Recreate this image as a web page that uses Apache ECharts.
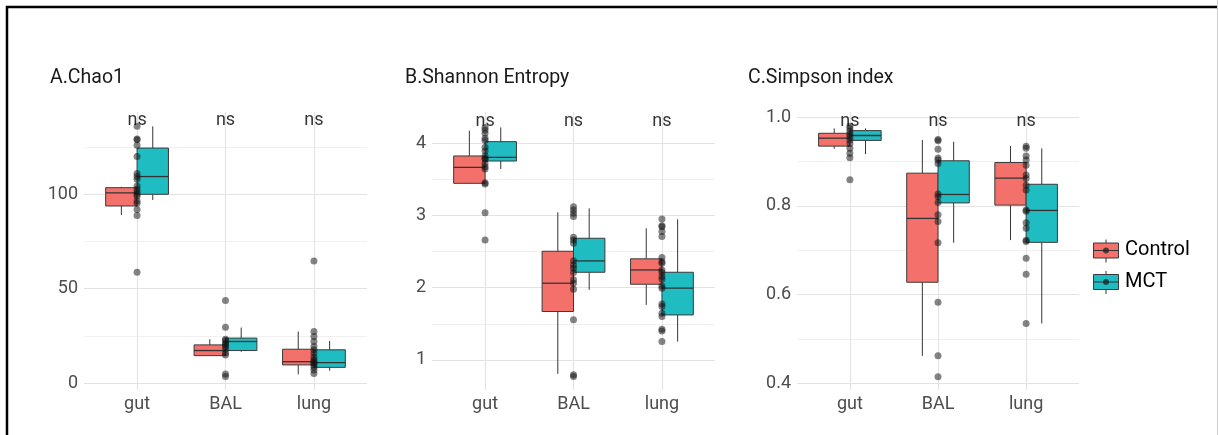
<!DOCTYPE html>
<html><head><meta charset="utf-8">
<script src="https://cdn.jsdelivr.net/npm/echarts@6/dist/echarts.min.js"></script>
<style>html,body{margin:0;padding:0;background:#fff}#c{width:1218px;height:435px}</style>
</head><body><div id="c"></div>
<script>
const categories = ['gut', 'BAL', 'lung'];
const groups = ['Control', 'MCT'];
const panelTitles = ['A.Chao1', 'B.Shannon Entropy', 'C.Simpson index'];
const sigLabels = ['ns', 'ns', 'ns'];

// box stats per category: [lower whisker, Q1, median, Q3, upper whisker]
const chao1Control = [[89, 93.8, 100.8, 103.5, 104], [14.5, 14.5, 17.2, 20.2, 23.2], [4.6, 9.6, 11.3, 17.9, 27.3]];
const chao1MCT     = [[97, 100, 109.4, 124.5, 136], [16.6, 17.2, 22, 23.8, 29.4], [6.5, 8.3, 10.8, 17.6, 22.3]];
const chao1Points = [
  [136, 129.3, 128.9, 126, 120, 111, 109.4, 108, 104.4, 102.7, 101.2, 100, 99, 96.4, 95.2, 92, 88.8, 58.7],
  [43.7, 29.6, 23.2, 22.5, 21.1, 20.5, 19.3, 18, 16, 14.9, 4.8, 3.4],
  [64.7, 27.3, 24.6, 22, 19.3, 17.6, 15.8, 13.7, 12.2, 11.3, 10.5, 9.6, 8.3, 6.9, 5.1]
];
const shannonControl = [[3.44, 3.446, 3.668, 3.825, 4.175], [0.807, 1.67, 2.062, 2.505, 3.045], [1.762, 2.048, 2.246, 2.40, 2.823]];
const shannonMCT     = [[3.645, 3.755, 3.806, 4.023, 4.22], [1.97, 2.214, 2.371, 2.685, 3.10], [1.254, 1.623, 1.993, 2.214, 2.948]];
const shannonPoints = [
  [4.22, 4.185, 4.14, 4.07, 4.04, 3.945, 3.894, 3.825, 3.79, 3.78, 3.72, 3.677, 3.645, 3.455, 3.437, 3.04, 2.66],
  [3.123, 3.077, 3.03, 2.985, 2.70, 2.66, 2.615, 2.375, 2.316, 2.27, 2.21, 2.11, 2.062, 1.98, 1.555, 0.793, 0.77],
  [2.952, 2.86, 2.845, 2.78, 2.71, 2.42, 2.36, 2.34, 2.246, 2.21, 2.154, 2.117, 2.025, 1.993, 1.776, 1.74, 1.646, 1.60, 1.425, 1.40, 1.254]
];
const simpsonControl = [[0.929, 0.935, 0.953, 0.964, 0.975], [0.462, 0.628, 0.772, 0.874, 0.949], [0.723, 0.802, 0.863, 0.898, 0.935]];
const simpsonMCT     = [[0.917, 0.948, 0.959, 0.970, 0.975], [0.717, 0.807, 0.826, 0.902, 0.945], [0.535, 0.718, 0.790, 0.849, 0.930]];
const simpsonPoints = [
  [0.980, 0.975, 0.968, 0.962, 0.956, 0.949, 0.941, 0.930, 0.919, 0.909, 0.859],
  [0.950, 0.947, 0.928, 0.908, 0.904, 0.896, 0.827, 0.821, 0.808, 0.780, 0.765, 0.717, 0.583, 0.462, 0.415],
  [0.935, 0.930, 0.913, 0.904, 0.892, 0.870, 0.862, 0.847, 0.836, 0.791, 0.788, 0.762, 0.750, 0.723, 0.720, 0.682, 0.646, 0.535]
];
const sigY = [139, 4.3, 0.99];

// axis ticks
const yMajorTicks = [[0, 50, 100], [1, 2, 3, 4], [0.4, 0.6, 0.8, 1.0]];
const yMinorTicks = [[25, 75, 125], [1.5, 2.5, 3.5], [0.5, 0.7, 0.9]];
const yRanges = [[-3.7, 143.6], [0.583, 4.434], [0.385, 1.012]];
const yDecimals = [0, 0, 1];

const panels = [
  {ctrl: chao1Control, mct: chao1MCT, pts: chao1Points},
  {ctrl: shannonControl, mct: shannonMCT, pts: shannonPoints},
  {ctrl: simpsonControl, mct: simpsonMCT, pts: simpsonPoints}
];

const colors = ['#f4716b', '#1fbdc2'];
const gridLefts = [84, 432, 797];
const gridWidths = [283, 283, 282];
const boxW = 0.355;
const FONT = 'Roboto';

function boxRenderer(offset, color) {
  return function (params, api) {
    const x = api.value(0) + offset;
    const lo = api.coord([x, api.value(1)]);
    const q1 = api.coord([x, api.value(2)]);
    const md = api.coord([x, api.value(3)]);
    const q3 = api.coord([x, api.value(4)]);
    const hi = api.coord([x, api.value(5)]);
    const w = api.size([boxW, 0])[0];
    const ls = {stroke: '#363636', lineWidth: 1};
    return {type: 'group', children: [
      {type: 'line', shape: {x1: lo[0], y1: lo[1], x2: q1[0], y2: q1[1]}, style: ls},
      {type: 'line', shape: {x1: q3[0], y1: q3[1], x2: hi[0], y2: hi[1]}, style: ls},
      {type: 'rect', shape: {x: md[0] - w / 2, y: q3[1], width: w, height: q1[1] - q3[1]},
        style: {fill: color, stroke: '#3a3a3a', lineWidth: 1}},
      {type: 'line', shape: {x1: md[0] - w / 2, y1: md[1], x2: md[0] + w / 2, y2: md[1]},
        style: {stroke: '#333', lineWidth: 1.3}}
    ]};
  };
}

const grid = [], xAxis = [], yAxis = [], series = [], title = [];
panels.forEach((p, i) => {
  grid.push({left: gridLefts[i], width: gridWidths[i], top: 112, height: 278});
  title.push({text: panelTitles[i], left: [45, 400, 743][i], top: 63,
    textStyle: {fontFamily: FONT, fontSize: 19.5, fontWeight: 'normal', color: '#1a1a1a'}});
  xAxis.push({
    type: 'value', gridIndex: i, min: 0.4, max: 3.6,
    axisLine: {show: false},
    axisTick: {show: false, customValues: [1, 2, 3]},
    axisLabel: {customValues: [1, 2, 3], formatter: v => categories[Math.round(v) - 1],
      fontFamily: FONT, fontSize: 18, color: '#4d4d4d', margin: 5},
    splitLine: {show: true, lineStyle: {color: '#e3e3e3', width: 1.1}}
  });
  // major y
  yAxis.push({
    type: 'value', gridIndex: i, min: yRanges[i][0], max: yRanges[i][1],
    axisLine: {show: false},
    axisTick: {show: false, customValues: yMajorTicks[i]},
    axisLabel: {customValues: yMajorTicks[i], formatter: v => v.toFixed(yDecimals[i]),
      fontFamily: FONT, fontSize: 18, color: '#4d4d4d', margin: 6},
    splitLine: {show: true, lineStyle: {color: '#e3e3e3', width: 1.1}}
  });
  // minor y
  yAxis.push({
    type: 'value', gridIndex: i, min: yRanges[i][0], max: yRanges[i][1], position: 'left',
    axisLine: {show: false},
    axisTick: {show: false, customValues: yMinorTicks[i]},
    axisLabel: {show: false},
    splitLine: {show: true, lineStyle: {color: '#ececec', width: 0.8}}
  });
  const yIdx = i * 2;
  [p.ctrl, p.mct].forEach((stats, g) => {
    series.push({
      type: 'custom', name: groups[g], xAxisIndex: i, yAxisIndex: yIdx,
      renderItem: boxRenderer(g === 0 ? -boxW / 2 : boxW / 2, colors[g]),
      encode: {x: 0, y: [1, 2, 3, 4, 5]},
      data: stats.map((s, c) => [c + 1].concat(s)),
      z: 2, silent: true
    });
  });
  const ptData = [];
  p.pts.forEach((arr, c) => arr.forEach(v => ptData.push([c + 1, v])));
  series.push({
    type: 'scatter', xAxisIndex: i, yAxisIndex: yIdx, data: ptData,
    symbolSize: 7, itemStyle: {color: 'rgba(20,20,20,0.65)'}, z: 3, silent: true
  });
  series.push({
    type: 'scatter', xAxisIndex: i, yAxisIndex: yIdx,
    data: categories.map((c, k) => [k + 1, sigY[i]]),
    symbolSize: 0, z: 4, silent: true,
    label: {show: true, position: 'inside', formatter: () => sigLabels[i],
      fontFamily: FONT, fontSize: 18, color: '#000'}
  });
});

function legendKey(y0, color) {
  return [
    {type: 'line', shape: {x1: 1106, y1: y0 - 11, x2: 1106, y2: y0 + 12}, style: {stroke: '#333', lineWidth: 1}},
    {type: 'rect', shape: {x: 1093.5, y: y0 - 7.5, width: 25, height: 15}, style: {fill: color, stroke: '#3a3a3a', lineWidth: 1}},
    {type: 'line', shape: {x1: 1093.5, y1: y0, x2: 1118.5, y2: y0}, style: {stroke: '#333', lineWidth: 1}},
    {type: 'circle', shape: {cx: 1106, cy: y0, r: 3}, style: {fill: 'rgba(25,25,25,0.7)'}}
  ];
}

const graphic = [
  {type: 'rect', shape: {x: 7, y: 7, width: 1300, height: 500}, style: {fill: 'none', stroke: '#000', lineWidth: 2.5}, z: 100},
  {type: 'line', shape: {x1: 1217.5, y1: 0, x2: 1217.5, y2: 435}, style: {stroke: '#cfcfcf', lineWidth: 1}, z: 100}
].concat(legendKey(250.5, colors[0]), legendKey(282, colors[1]), [
  {type: 'text', x: 1125, y: 250, style: {text: groups[0], font: '20px Roboto', fill: '#000', verticalAlign: 'middle'}},
  {type: 'text', x: 1125, y: 281.5, style: {text: groups[1], font: '20px Roboto', fill: '#000', verticalAlign: 'middle'}}
]);

const chart = echarts.init(document.getElementById('c'), null, {renderer: 'canvas'});
chart.setOption({
  backgroundColor: '#fff', animation: false,
  title, grid, xAxis, yAxis, series, graphic
});
</script></body></html>
